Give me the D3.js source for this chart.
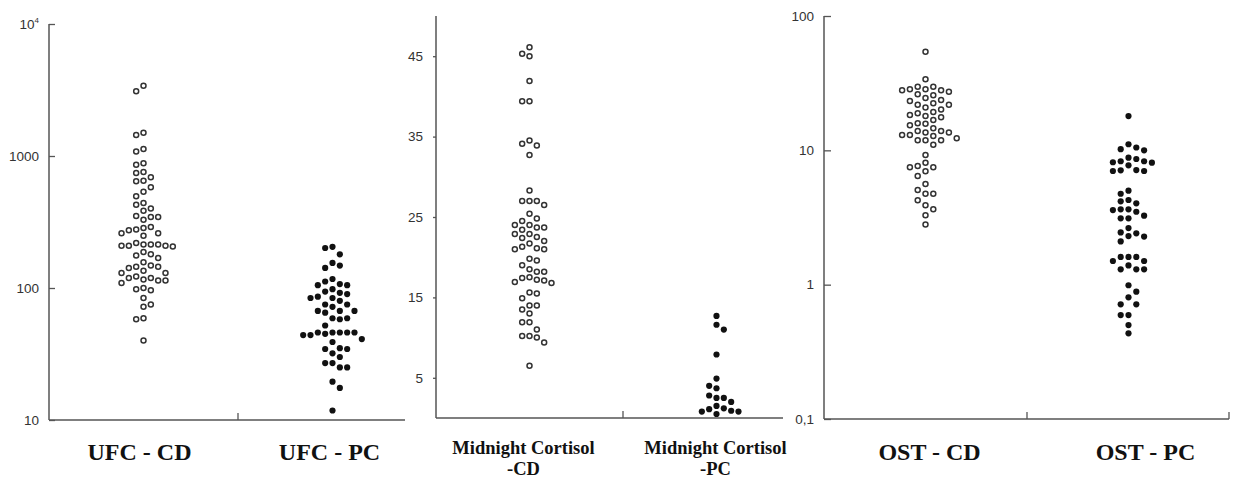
<!DOCTYPE html>
<html>
<head>
<meta charset="utf-8">
<script src="https://cdn.jsdelivr.net/npm/d3@7"></script>
<style>
  body { margin: 0; background: #fff; }
  .tick text { font-family: "Liberation Sans", Arial, sans-serif; font-size: 13.5px; fill: #333; }
</style>
</head>
<body>
<svg id="chart" width="1235" height="482"></svg>
<script>
// ---- data ----
// UFC (log axis)
const ufcCategories = ['UFC - CD', 'UFC - PC']
const ufcCD = [3400, 3100, 1500, 1440, 1130, 1080, 880, 860, 745, 755, 650, 643, 690, 580, 535, 495,
  440, 428, 400, 385, 351, 345, 345, 329, 290, 285, 278, 274, 260, 260, 249, 219, 214, 214, 214,
  209, 209, 209, 206, 187, 180, 176, 169, 157, 148, 145, 145, 142, 135, 130, 130, 122, 119, 119,
  116, 114, 114, 109, 100, 98, 96, 84, 75, 72, 59, 58, 40]
const ufcPC = [205, 201, 180, 155, 148, 142, 117, 112, 107, 105, 105, 98, 92, 94, 90, 86, 84, 84, 80,
  75, 75, 72, 67, 67, 67, 65, 59, 58, 59, 52, 46, 46, 46, 44, 45, 44, 46, 46, 41, 39, 35, 34.5, 34.5,
  32, 30, 27, 25, 25, 27, 19.5, 17.5, 11.8]
const ufcTicks = [10, 100, 1000, 10000]

// Midnight cortisol (linear axis)
const mcCategories = ['Midnight Cortisol\n-CD', 'Midnight Cortisol\n-PC']
const mcCD = [46.1, 45.3, 45.0, 41.9, 39.4, 39.4, 34.5, 34.1, 33.9, 32.7, 28.3, 27.0, 27.0, 27.0, 26.5,
  25.4, 24.8, 24.5, 23.7, 24.0, 24.0, 23.4, 23.7, 22.9, 22.5, 22.4, 22.9, 22.0, 21.7, 21.1, 21.0, 21.0,
  21.3, 19.8, 19.6, 19.0, 18.5, 18.2, 18.2, 17.5, 17.2, 16.9, 16.8, 17.1, 17.4, 15.5, 15.6, 14.9, 14.0,
  14.0, 13.5, 13.0, 11.9, 11.9, 11.0, 10.2, 10.0, 10.2, 9.4, 6.5]
const mcPC = [12.7, 11.6, 11.0, 7.9, 4.9, 4.0, 3.7, 2.5, 2.8, 2.5, 2.0, 1.5, 1.1, 0.8, 0.5, 0.8, 0.9, 1.2]
const mcTicks = [5, 15, 25, 35, 45]

// OST (log axis)
const ostCategories = ['OST - CD', 'OST - PC']
const ostCD = [54.2, 33.8, 28.5, 28.0, 27.3, 25.7, 24.5, 29.8, 29.8, 26.1, 28.0, 28.5, 23.3, 21.8, 20.8,
  20.1, 21.8, 22.4, 23.7, 18.9, 18.0, 16.8, 17.6, 18.3, 19.3, 15.8, 15.4, 15.9, 13.9, 13.6, 13.6, 13.9,
  14.6, 13.0, 12.8, 13.0, 12.3, 11.9, 11.9, 11.9, 11.0, 9.23, 8.09, 7.48, 6.98, 7.48, 7.64, 6.44, 5.61,
  5.07, 4.75, 4.75, 4.25, 3.64, 3.90, 3.28, 2.81]
const ostPC = [18.0, 11.1, 10.0, 10.5, 10.2, 8.62, 8.81, 8.29, 8.09, 7.74, 8.15, 8.29, 7.10, 7.02, 7.02,
  7.13, 4.75, 5.01, 4.17, 4.03, 4.27, 3.64, 3.49, 3.59, 3.64, 3.12, 3.26, 3.12, 2.64, 2.41, 2.28, 2.10,
  2.30, 2.45, 1.50, 1.61, 1.61, 1.61, 1.50, 1.30, 1.30, 1.30, 1.39, 0.99, 0.887, 0.805, 0.714, 0.714,
  0.594, 0.594, 0.50, 0.434]
const ostTicks = [0.1, 1, 10, 100]

const svg = d3.select('#chart')

// grid beeswarm: each dot goes to the nearest free column around the centre
function swarm(values, y, colStep, gap) {
  const pts = values.map(v => ({ v, y: y(v) })).sort((a, b) => a.y - b.y)
  const cols = new Map()
  pts.forEach((p, i) => {
    const s = i % 2 ? -1 : 1
    const order = [0]
    for (let k = 1; k < 12; k++) order.push(s * k, -s * k)
    for (const c of order) {
      const list = cols.get(c) || []
      if (list.every(yy => Math.abs(yy - p.y) >= gap)) {
        list.push(p.y)
        cols.set(c, list)
        p.dx = c * colStep
        break
      }
    }
  })
  return pts
}

function drawPanel(cfg) {
  const g = svg.append('g')
  const x = d3.scaleBand().domain(cfg.cats).range([cfg.left, cfg.left + 2 * cfg.step])
  const y = cfg.y

  // y axis
  const yAxis = d3.axisLeft(y).tickValues(cfg.ticks).tickFormat(cfg.fmt)
    .tickSizeInner(cfg.tickIn).tickSizeOuter(0).tickPadding(10)
  const ya = g.append('g').attr('transform', `translate(${cfg.left},0)`).call(yAxis)
  ya.select('.domain').attr('stroke', '#555').attr('stroke-width', 1.5)
    .attr('d', `M0,${cfg.bottom}V${cfg.top}`)
  ya.selectAll('.tick line').attr('stroke', '#555').attr('stroke-width', 1.3)
  ya.selectAll('.tick text').each(function (d) {
    if (d === 10000) {
      const t = d3.select(this)
      t.text('10')
      t.append('tspan').attr('dy', -6).attr('font-size', 8).text('4')
    }
  })

  // x axis: line with a tick between the groups
  const yb = cfg.bottom
  g.append('line').attr('x1', cfg.left).attr('x2', cfg.right).attr('y1', yb).attr('y2', yb)
    .attr('stroke', '#555').attr('stroke-width', 1.5)
  const xt = [x(cfg.cats[1])]
  if (cfg.endTick) xt.push(cfg.right)
  g.selectAll('.xtick').data(xt).join('line')
    .attr('x1', d => d).attr('x2', d => d).attr('y1', yb).attr('y2', yb - 7)
    .attr('stroke', '#555').attr('stroke-width', 1.3)

  // dots: open for CD, filled for PC
  cfg.series.forEach((vals, i) => {
    const cx = x(cfg.cats[i]) + x.bandwidth() / 2
    const pts = swarm(vals, y, cfg.colStep, 7.5)
    g.append('g').selectAll('circle').data(pts).join('circle')
      .attr('cx', d => cx + d.dx)
      .attr('cy', d => d.y)
      .attr('r', i === 0 ? 2.5 : 3.1)
      .attr('fill', i === 0 ? '#fff' : '#111')
      .attr('stroke', i === 0 ? '#333' : 'none')
      .attr('stroke-width', 1.5)
  })

  // category labels
  cfg.cats.forEach((c, i) => {
    const cx = x(c) + x.bandwidth() / 2 + cfg.labelDx[i]
    const t = g.append('text')
      .attr('y', cfg.labelY)
      .attr('text-anchor', 'middle')
      .attr('font-family', '"Liberation Serif", "Times New Roman", serif')
      .attr('font-weight', 'bold')
      .attr('font-size', cfg.labelSize)
      .attr('fill', '#111')
    c.split('\n').forEach((l, j) => {
      t.append('tspan').attr('x', cx).attr('dy', j === 0 ? 0 : cfg.labelSize * 1.15).text(l)
    })
  })
}

drawPanel({
  cats: ufcCategories, series: [ufcCD, ufcPC], ticks: ufcTicks,
  y: d3.scaleLog().domain([10, 10000]).range([420, 24]),
  fmt: d => String(d), top: 24, bottom: 420,
  left: 49, right: 405, step: 189, colStep: 7.33, tickIn: -6, endTick: false,
  labelY: 460, labelSize: 24, labelDx: [-4, -3]
})

drawPanel({
  cats: mcCategories, series: [mcCD, mcPC], ticks: mcTicks,
  y: d3.scaleLinear().domain([0, 50]).range([418, 16]),
  fmt: d => String(d), top: 16, bottom: 418,
  left: 436, right: 783, step: 187, colStep: 7.33, tickIn: 3, endTick: false,
  labelY: 454, labelSize: 18.5, labelDx: [-6, -1]
})

drawPanel({
  cats: ostCategories, series: [ostCD, ostPC], ticks: ostTicks,
  y: d3.scaleLog().domain([0.1, 100]).range([419, 16]),
  fmt: d => d === 0.1 ? '0,1' : String(d), top: 16, bottom: 419,
  left: 824, right: 1229, step: 203, colStep: 7.8, tickIn: -7, endTick: true,
  labelY: 460, labelSize: 24, labelDx: [4, 17]
})
</script>
</body>
</html>
